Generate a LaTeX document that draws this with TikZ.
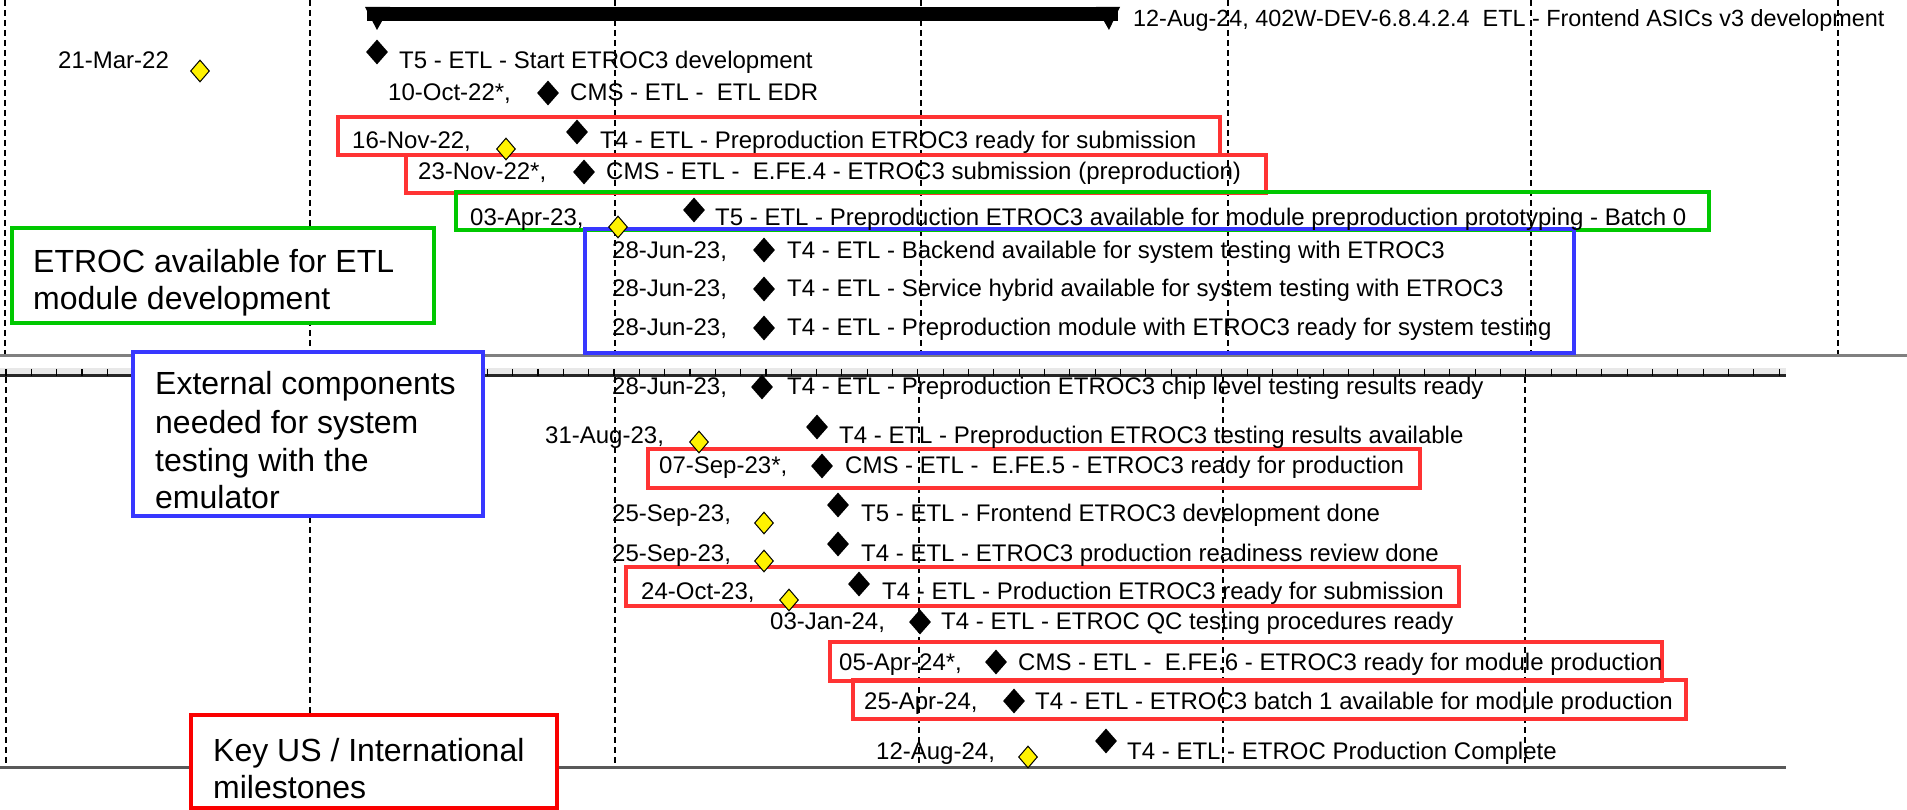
\documentclass[tikz,border=0pt]{standalone}
\usepackage{fontspec}
\setmainfont{Liberation Sans}
\usetikzlibrary{shapes.geometric}
\definecolor{msred}{RGB}{255,51,51}
\definecolor{keyred}{RGB}{250,0,0}
\definecolor{msgreen}{RGB}{0,200,0}
\definecolor{msblue}{RGB}{55,55,255}
\tikzset{
  ms/.style={anchor=base west, inner sep=0pt, font=\fontsize{24}{28}\selectfont},
  topms/.style={anchor=base west, inner sep=0pt, font=\fontsize{23.4}{28}\selectfont},
  callout/.style={anchor=base west, inner sep=0pt, font=\fontsize{32}{38}\selectfont},
  bdia/.style={diamond, fill=black, minimum width=22pt, minimum height=25pt, inner sep=0pt},
  ydia/.style={diamond, draw=black, line width=1pt, fill=yellow, minimum width=19pt, minimum height=22pt, inner sep=0pt},
  yeargrid/.style={black, line width=1.1pt, dash pattern=on 6pt off 4pt},
  msbox/.style={line width=3.5pt},
  cbox/.style={line width=4pt, fill=white},
}
\begin{document}
\begin{tikzpicture}[x=1pt,y=-1pt]
\useasboundingbox (0,0) rectangle (1907,810);
% year grid, upper section
\foreach \gx in {5,310,615,921,1228,1531,1838}
  \draw[yeargrid] (\gx,0) -- (\gx,354);
% year grid, lower section
\foreach \gx in {6,310,615,919,1223,1525}
  \draw[yeargrid] (\gx,377) -- (\gx,767);
% separators
\draw[gray, line width=3pt] (0,356) -- (1907,356);
\fill[gray!18] (0,368) rectangle (1786,374);
\draw[black!85, line width=2.5pt] (0,375.5) -- (1786,375.5);
\foreach \k in {0,...,70}
  \draw[black, line width=1.2pt] ({6+25.33*\k},369) -- ({6+25.33*\k},376);
\draw[gray!70!black, line width=3pt] (0,767) -- (1786,767);
% summary bar
\fill[black] (367,7) rectangle (1118,21);
\fill[black] (365,7) -- (390,7) -- (377,30) -- cycle;
\fill[black] (1096,7) -- (1120,7) -- (1109,30) -- cycle;
\node[topms] (top) at (1133,27) {12-Aug-24, 402W-DEV-6.8.4.2.4\ \ ETL - Frontend ASICs v3 development};
% milestone boxes
\draw[msbox, msred] (338,117) rectangle (1220,155);
\draw[msbox, msred] (406,155) rectangle (1266,193);
\draw[msbox, msgreen] (456,192) rectangle (1709,230);
\draw[msbox, msblue] (585,229) rectangle (1574,353);
\draw[msbox, msred] (648,449) rectangle (1420,488);
\draw[msbox, msred] (626,567) rectangle (1459,606);
\draw[msbox, msred] (830,642) rectangle (1662,681);
\draw[msbox, msred] (853,680) rectangle (1686,719);
% milestones
\node[ms] (d1) at (58,69) {21-Mar-22};
\node[ydia] (y1) at (200,71) {};
\node[bdia] (b2) at (377,52) {};
\node[ms] (t2) at (399,69) {T5 - ETL - Start ETROC3 development};
\node[ms] (d3) at (388,101) {10-Oct-22*,};
\node[bdia] (b3) at (548,93) {};
\node[ms] (t3) at (570,101) {CMS - ETL -\ \ ETL EDR};
\node[ms] (d4) at (352,149) {16-Nov-22,};
\node[ydia] (y4) at (506,149) {};
\node[bdia] (b4) at (577,132) {};
\node[ms] (t4) at (600,149) {T4 - ETL - Preproduction ETROC3 ready for submission};
\node[ms] (d5) at (418,180) {23-Nov-22*,};
\node[bdia] (b5) at (584,172) {};
\node[ms] (t5) at (606,180) {CMS - ETL -\ \ E.FE.4 - ETROC3 submission (preproduction)};
\node[ms] (d6) at (470,226) {03-Apr-23,};
\node[ydia] (y6) at (618,227) {};
\node[bdia] (b6) at (694,210) {};
\node[ms] (t6) at (715,226) {T5 - ETL - Preproduction ETROC3 available for module preproduction prototyping - Batch 0};
\node[ms] (d7) at (612,259) {28-Jun-23,};
\node[bdia] (b7) at (764,250) {};
\node[ms] (t7) at (787,259) {T4 - ETL - Backend available for system testing with ETROC3};
\node[ms] (d8) at (612,297) {28-Jun-23,};
\node[bdia] (b8) at (764,289) {};
\node[ms] (t8) at (787,297) {T4 - ETL - Service hybrid available for system testing with ETROC3};
\node[ms] (d9) at (612,336) {28-Jun-23,};
\node[bdia] (b9) at (764,328) {};
\node[ms] (t9) at (787,336) {T4 - ETL - Preproduction module with ETROC3 ready for system testing};
\node[ms] (d10) at (612,395) {28-Jun-23,};
\node[bdia] (b10) at (762,387) {};
\node[ms] (t10) at (787,395) {T4 - ETL - Preproduction ETROC3 chip level testing results ready};
\node[ms] (d11) at (545,443) {31-Aug-23,};
\node[ydia] (y11) at (699,442) {};
\node[bdia] (b11) at (817,427) {};
\node[ms] (t11) at (839,443) {T4 - ETL - Preproduction ETROC3 testing results available};
\node[ms] (d12) at (659,473) {07-Sep-23*,};
\node[bdia] (b12) at (822,466) {};
\node[ms] (t12) at (845,473) {CMS - ETL -\ \ E.FE.5 - ETROC3 ready for production};
\node[ms] (d13) at (612,521) {25-Sep-23,};
\node[ydia] (y13) at (764,523) {};
\node[bdia] (b13) at (838,505) {};
\node[ms] (t13) at (861,521) {T5 - ETL - Frontend ETROC3 development done};
\node[ms] (d14) at (612,561) {25-Sep-23,};
\node[ydia] (y14) at (764,561) {};
\node[bdia] (b14) at (838,544) {};
\node[ms] (t14) at (861,561) {T4 - ETL - ETROC3 production readiness review done};
\node[ms] (d15) at (641,599) {24-Oct-23,};
\node[ydia] (y15) at (789,600) {};
\node[bdia] (b15) at (859,584) {};
\node[ms] (t15) at (882,599) {T4 - ETL - Production ETROC3 ready for submission};
\node[ms] (d16) at (770,629) {03-Jan-24,};
\node[bdia] (b16) at (920,622) {};
\node[ms] (t16) at (941,629) {T4 - ETL - ETROC QC testing procedures ready};
\node[ms] (d17) at (839,670) {05-Apr-24*,};
\node[bdia] (b17) at (996,662) {};
\node[ms] (t17) at (1018,670) {CMS - ETL -\ \ E.FE.6 - ETROC3 ready for module production};
\node[ms] (d18) at (864,709) {25-Apr-24,};
\node[bdia] (b18) at (1014,701) {};
\node[ms] (t18) at (1035,709) {T4 - ETL - ETROC3 batch 1 available for module production};
\node[ms] (d19) at (876,759) {12-Aug-24,};
\node[ydia] (y19) at (1028,757) {};
\node[bdia] (b19) at (1106,741) {};
\node[ms] (t19) at (1127,759) {T4 - ETL - ETROC Production Complete};
% callouts
\draw[cbox, draw=msgreen] (12,228) rectangle (434,323);
\node[callout] (c1a) at (33,273) {ETROC available for ETL};
\node[callout] (c1b) at (33,310) {module development};
\draw[cbox, draw=msblue] (133,352) rectangle (483,516);
\node[callout] (c2a) at (155,395) {External components};
\node[callout] (c2b) at (155,433) {needed for system};
\node[callout] (c2c) at (155,471) {testing with the};
\node[callout] (c2d) at (155,508) {emulator};
\draw[cbox, draw=keyred] (191,715) rectangle (557,808);
\node[callout] (c3a) at (213,761) {Key US / International};
\node[callout] (c3b) at (213,798) {milestones};
\end{tikzpicture}
\end{document}
